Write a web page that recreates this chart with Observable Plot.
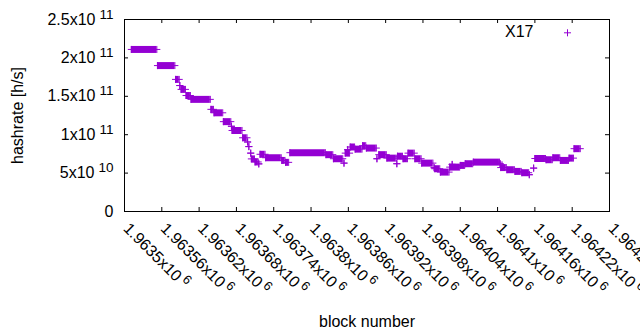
<!DOCTYPE html>
<html><head><meta charset="utf-8">
<script src="https://cdn.jsdelivr.net/npm/d3@7"></script>
<script src="https://cdn.jsdelivr.net/npm/@observablehq/plot@0.6"></script>
<style>html,body{margin:0;padding:0;background:#fff} svg{display:block}</style>
</head><body><div id="chart"></div>
<script>
// Constant-value runs of the series (block ranges and hashrate)
const runStart = [1963511,1963553,1963582,1963589,1963591,1963599,1963607,1963639,1963644,1963659,1963672,1963673,1963690,1963698,1963700,1963703,1963704,1963710,1963716,1963718,1963727,1963753,1963759,1963766,1963824,1963836,1963853,1963855,1963859,1963863,1963871,1963883,1963889,1963906,1963909,1963922,1963938,1963939,1963948,1963956,1963967,1963978,1963998,1963999,1964008,1964023,1964027,1964040,1964048,1964061,1964104,1964105,1964115,1964128,1964139,1964151,1964158,1964160,1964178,1964189,1964201,1964215,1964223];
const runEnd   = [1963552,1963581,1963588,1963589,1963598,1963606,1963638,1963643,1963658,1963671,1963672,1963689,1963697,1963698,1963700,1963703,1963709,1963715,1963716,1963726,1963752,1963758,1963764,1963823,1963835,1963851,1963853,1963862,1963859,1963870,1963882,1963888,1963905,1963906,1963921,1963937,1963938,1963947,1963955,1963966,1963977,1963996,1963998,1964007,1964022,1964039,1964027,1964047,1964060,1964103,1964104,1964114,1964127,1964138,1964150,1964151,1964158,1964177,1964188,1964200,1964214,1964222,1964233];
const runValue = [21.1e10,19.0e10,17.2e10,16.4e10,15.9e10,15.1e10,14.6e10,13.3e10,12.85e10,11.7e10,11.1e10,10.55e10,9.6e10,9.05e10,8.45e10,7.6e10,6.85e10,6.45e10,6.2e10,7.45e10,7.0e10,6.65e10,6.4e10,7.66e10,7.4e10,6.87e10,6.3e10,7.6e10,8.05e10,8.4e10,8.12e10,8.57e10,8.26e10,6.87e10,7.4e10,6.95e10,6.22e10,7.2e10,6.87e10,7.6e10,6.87e10,6.3e10,5.7e10,5.57e10,5.13e10,5.78e10,6.13e10,6.0e10,6.22e10,6.43e10,6.22e10,5.72e10,5.44e10,5.22e10,5.05e10,4.79e10,5.65e10,6.9e10,6.74e10,7.0e10,6.65e10,6.95e10,8.18e10];

const xDomain = [1963500, 1964280];
const xTicks = [1963500,1963560,1963620,1963680,1963740,1963800,1963860,1963920,1963980,1964040,1964100,1964160,1964220,1964280];
const xTickBase = ["1.9635x10","1.96356x10","1.96362x10","1.96368x10","1.96374x10","1.9638x10","1.96386x10","1.96392x10","1.96398x10","1.96404x10","1.9641x10","1.96416x10","1.96422x10","1.96428x10"];
const xTickExp = "6";
const yDomain = [0, 2.5e11];
const yTicks = [0, 5e10, 1e11, 1.5e11, 2e11, 2.5e11];
const yTickBase = ["0","5x10","1x10","1.5x10","2x10","2.5x10"];
const yTickExp = ["","10","11","11","11","11"];
const seriesName = "X17";
const xLabel = "block number";
const yLabel = "hashrate [h/s]";
const color = "#9400d3";

const W = 640, H = 330, mL = 124, mR = 31, mT = 19, mB = 119;
const plotW = W - mL - mR, plotH = H - mT - mB, tick = 4;

const runs = runStart.map((s, i) => ({start: s, end: runEnd[i], value: runValue[i]}));
const ends = runs.flatMap(r => [{block: r.start, value: r.value}, {block: r.end, value: r.value}]);

const chart = Plot.plot({
  width: W, height: H,
  marginLeft: mL, marginRight: mR, marginTop: mT, marginBottom: mB,
  x: {domain: xDomain, axis: null},
  y: {domain: yDomain, axis: null},
  style: {fontFamily: "'Liberation Sans', Arial, sans-serif", fontSize: "16px", background: "#fff", color: "#000"},
  marks: [
    Plot.ruleY(runs, {y: "value", x1: "start", x2: "end", stroke: color, strokeWidth: 7}),
    Plot.dot(ends, {x: "block", y: "value", symbol: "plus", r: 2.4, stroke: color, strokeWidth: 1}),
    Plot.frame({stroke: "#000"}),
    Plot.ruleX(xTicks, {x: d => d, insetTop: plotH - tick, stroke: "#000"}),
    Plot.ruleX(xTicks, {x: d => d, insetBottom: plotH - tick, stroke: "#000"}),
    Plot.ruleY(yTicks, {y: d => d, insetRight: plotW - tick, stroke: "#000"}),
    Plot.ruleY(yTicks, {y: d => d, insetLeft: plotW - tick, stroke: "#000"}),
    Plot.text(yTicks, {y: d => d, text: (d, i) => yTickBase[i], frameAnchor: "left", textAnchor: "end", lineAnchor: "middle", dx: -11, fill: "#000"}),
    Plot.text(xTicks, {x: d => d, text: (d, i) => xTickBase[i], frameAnchor: "bottom", textAnchor: "start", lineAnchor: "bottom", rotate: 45, dx: -2, dy: 18, fill: "#000"}),
    Plot.text([xLabel], {frameAnchor: "bottom", textAnchor: "middle", lineAnchor: "bottom", dy: 115, fill: "#000"}),
    Plot.text([yLabel], {frameAnchor: "left", textAnchor: "middle", lineAnchor: "bottom", rotate: -90, dx: -102, fill: "#000"}),
    Plot.text([seriesName], {frameAnchor: "top-right", textAnchor: "end", lineAnchor: "middle", dx: -76, dy: 12.6, fill: "#000"}),
    Plot.dot([seriesName], {frameAnchor: "top-right", dx: -42, dy: 13.3, symbol: "plus", r: 2.4, stroke: color, strokeWidth: 1})
  ]
});

// superscript exponents of the tick labels
d3.select(chart).selectAll("text").each(function () {
  const t = this.textContent;
  const k = yTickBase.indexOf(t);
  if (k >= 0 && yTickExp[k]) {
    d3.select(this).append("tspan").attr("dx", 4).attr("dy", -6).attr("font-size", 13.5).text(yTickExp[k]);
  } else if (xTickBase.includes(t)) {
    d3.select(this).append("tspan").attr("dx", 3).attr("dy", -6).attr("font-size", 12.8).text(xTickExp);
  }
});

document.getElementById("chart").appendChild(chart);
</script>
</body></html>
